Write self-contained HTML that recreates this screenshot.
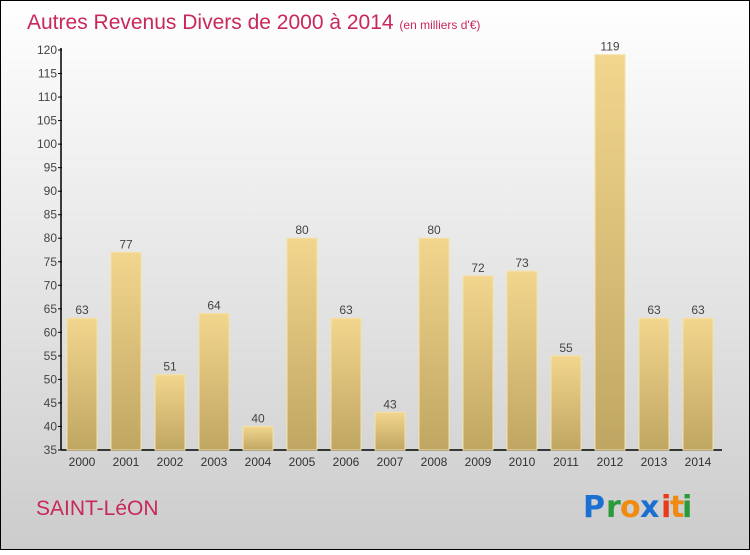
<!DOCTYPE html>
<html><head><meta charset="utf-8"><style>
body{margin:0;width:750px;height:550px;overflow:hidden;font-family:"Liberation Sans",sans-serif}
</style></head><body>
<svg width="750" height="550" xmlns="http://www.w3.org/2000/svg">
<defs>
<linearGradient id="bg" x1="0" y1="0" x2="0" y2="1"><stop offset="0" stop-color="#ffffff"/><stop offset="1" stop-color="#cccccc"/></linearGradient>
<linearGradient id="bar" x1="0" y1="0" x2="0" y2="1"><stop offset="0" stop-color="#f2d68e"/><stop offset="1" stop-color="#bfa662"/></linearGradient>
</defs>
<rect x="0.5" y="0.5" width="749" height="549" fill="url(#bg)" stroke="#000"/>
<text x="27" y="29" font-size="21" fill="#c8285a">Autres Revenus Divers de 2000 à 2014 <tspan font-size="12">(en milliers d'€)</tspan></text>
<g id="ax"></g>
<g id="bars"></g>
<text x="36" y="515" font-size="21" fill="#c8285a">SAINT-LéON</text>
<g font-size="30" font-weight="bold" font-family="'DejaVu Sans',sans-serif">
<text x="583" y="517" fill="#1a6fd0">P</text><text x="606" y="517" fill="#2a9a3a">r</text><text x="620" y="517" fill="#f08a10">o</text><text x="640" y="517" fill="#1a6fd0">x</text><text x="661" y="517" fill="#e83a1a">i</text><text x="670" y="517" fill="#f08a10">t</text><text x="682" y="517" fill="#2a9a3a">i</text>
</g>
</svg>
<script>
const years=["2000","2001","2002","2003","2004","2005","2006","2007","2008","2009","2010","2011","2012","2013","2014"];
const values=[63,77,51,64,40,80,63,43,80,72,73,55,119,63,63];
const yTicks=[35,40,45,50,55,60,65,70,75,80,85,90,95,100,105,110,115,120];
const NS="http://www.w3.org/2000/svg";
const y0=450,y1=50,vmin=35,vmax=120;
function Y(v){return y0-(v-vmin)/(vmax-vmin)*(y0-y1);}
function X(i){return 82+i*44;}
function mk(t,a,p){const e=document.createElementNS(NS,t);for(const k in a)e.setAttribute(k,a[k]);p.appendChild(e);return e;}
const ax=document.getElementById('ax'),bars=document.getElementById('bars');
const yl=mk('line',{x1:61,y1:y1-2,x2:61,y2:y0,stroke:'#000','stroke-width':1.5},ax);


const xl=mk('line',{x1:61,y1:y0,x2:722,y2:y0,stroke:'#000','stroke-width':1.5},ax);


yTicks.forEach(v=>{
 mk('line',{x1:58,x2:62,y1:Y(v),y2:Y(v),stroke:'#000'},ax);
 const t=mk('text',{x:57,y:Y(v)+4,'text-anchor':'end','font-size':12,fill:'#444'},ax);t.textContent=v;
 
 
});
years.forEach((yr,i)=>{
 const v=values[i];
 const r=mk('rect',{x:X(i)-15,y:Y(v),width:30,height:y0-Y(v),fill:'url(#bar)',stroke:'#f5e2a8','stroke-width':1},bars);
 
 
 const l=mk('text',{x:X(i),y:Y(v)-4,'text-anchor':'middle','font-size':12,fill:'#444'},bars);l.textContent=v;
 
 
 const xt=mk('text',{x:X(i),y:466,'text-anchor':'middle','font-size':12,fill:'#333'},ax);xt.textContent=yr;
 
 
});
</script>
</body></html>
